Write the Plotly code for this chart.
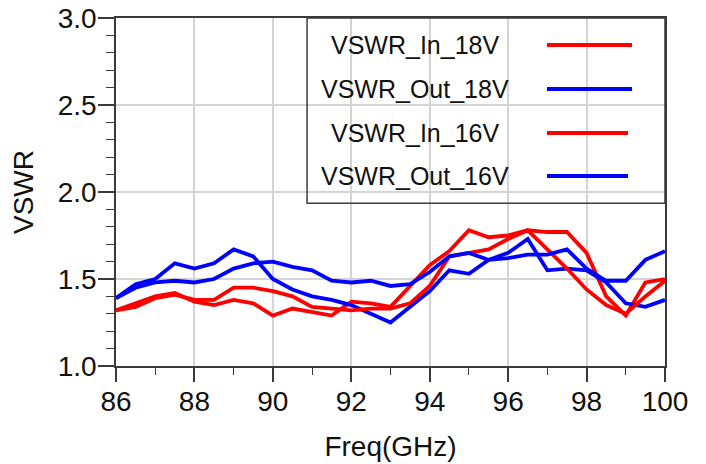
import plotly.graph_objects as go

# ---------------- data ----------------
freq_ghz = [86.0, 86.5, 87.0, 87.5, 88.0, 88.5, 89.0, 89.5, 90.0, 90.5,
            91.0, 91.5, 92.0, 92.5, 93.0, 93.5, 94.0, 94.5, 95.0, 95.5,
            96.0, 96.5, 97.0, 97.5, 98.0, 98.5, 99.0, 99.5, 100.0]

vswr_in_18v = [1.32, 1.36, 1.40, 1.42, 1.37, 1.35, 1.38, 1.36, 1.29, 1.33,
               1.31, 1.29, 1.37, 1.36, 1.34, 1.46, 1.58, 1.66, 1.78, 1.74,
               1.75, 1.78, 1.77, 1.77, 1.65, 1.40, 1.29, 1.48, 1.50]

vswr_out_18v = [1.39, 1.47, 1.50, 1.59, 1.56, 1.59, 1.67, 1.63, 1.50, 1.44,
                1.40, 1.38, 1.35, 1.30, 1.25, 1.34, 1.43, 1.55, 1.53, 1.61,
                1.65, 1.73, 1.55, 1.56, 1.55, 1.48, 1.36, 1.34, 1.38]

vswr_in_16v = [1.32, 1.34, 1.39, 1.41, 1.38, 1.38, 1.45, 1.45, 1.43, 1.40,
               1.34, 1.33, 1.32, 1.33, 1.33, 1.36, 1.46, 1.63, 1.65, 1.67,
               1.73, 1.78, 1.67, 1.56, 1.44, 1.35, 1.30, 1.40, 1.49]

vswr_out_16v = [1.39, 1.45, 1.48, 1.49, 1.48, 1.50, 1.56, 1.59, 1.60, 1.57,
                1.55, 1.49, 1.48, 1.49, 1.46, 1.47, 1.54, 1.63, 1.65, 1.61,
                1.62, 1.64, 1.64, 1.67, 1.56, 1.49, 1.49, 1.61, 1.66]

series_names = ["VSWR_In_18V", "VSWR_Out_18V", "VSWR_In_16V", "VSWR_Out_16V"]
series_values = [vswr_in_18v, vswr_out_18v, vswr_in_16v, vswr_out_16v]
series_colors = ["#ff0000", "#0000ff", "#ff0000", "#0000ff"]

x_ticks = [86, 88, 90, 92, 94, 96, 98, 100]
y_ticks = [1.0, 1.5, 2.0, 2.5, 3.0]

# ---------------- figure ----------------
FONT = "Liberation Sans, Arial, sans-serif"
AXIS_COL = "#3a3a3a"
GRID_COL = "#d4d4d4"
LINE_W = 3.8

fig = go.Figure()
for name, vals, col in zip(series_names, series_values, series_colors):
    fig.add_trace(go.Scatter(x=freq_ghz, y=vals, mode="lines", name=name,
                             line=dict(color=col, width=LINE_W),
                             showlegend=False))

# custom legend (text left, line sample right, as in the reference)
leg_rows_y = [0.9224, 0.796, 0.6695, 0.546]
leg_line_x1 = [0.940, 0.940, 0.9326, 0.9326]
fig.add_shape(type="rect", xref="paper", yref="paper",
              x0=0.348, x1=1.0, y0=0.468, y1=1.0,
              line=dict(color=AXIS_COL, width=1.5), fillcolor="rgba(0,0,0,0)")
for name, col, yy, x1 in zip(series_names, series_colors, leg_rows_y, leg_line_x1):
    fig.add_annotation(xref="paper", yref="paper", x=0.5446, y=yy,
                       text=name, showarrow=False, xanchor="center",
                       yanchor="middle",
                       font=dict(family=FONT, size=25, color="#111"))
    fig.add_shape(type="line", xref="paper", yref="paper",
                  x0=0.785, x1=x1, y0=yy, y1=yy,
                  line=dict(color=col, width=LINE_W))

fig.update_layout(
    width=706, height=464,
    margin=dict(l=116, r=41, t=18, b=98, autoexpand=False),
    paper_bgcolor="white", plot_bgcolor="white",
    font=dict(family=FONT, size=28, color="#111"),
)
fig.update_xaxes(
    range=[86, 100], tickvals=x_ticks, ticktext=[str(v) for v in x_ticks],
    showgrid=True, gridcolor=GRID_COL, gridwidth=1.5,
    showline=True, linecolor=AXIS_COL, linewidth=1.5, mirror=True,
    ticks="outside", ticklen=14, tickwidth=1.5, tickcolor=AXIS_COL,
    minor=dict(dtick=1, ticks="outside", ticklen=7, tickwidth=1.2,
               tickcolor=AXIS_COL, showgrid=False),
    tickfont=dict(family=FONT, size=28, color="#111"),
    ticklabelstandoff=-4, ticklabeloverflow="allow",
    title=dict(text="Freq(GHz)", standoff=20,
               font=dict(family=FONT, size=28, color="#111")),
    zeroline=False, automargin=False,
)
fig.update_yaxes(
    range=[1, 3], tickvals=y_ticks, ticktext=[f"{v:.1f}" for v in y_ticks],
    showgrid=True, gridcolor=GRID_COL, gridwidth=1.5,
    showline=True, linecolor=AXIS_COL, linewidth=1.5, mirror=True,
    ticks="outside", ticklen=16, tickwidth=1.5, tickcolor=AXIS_COL,
    minor=dict(dtick=0.1, ticks="outside", ticklen=8, tickwidth=1.2,
               tickcolor=AXIS_COL, showgrid=False),
    tickfont=dict(family=FONT, size=28, color="#111"),
    ticklabelstandoff=-4, ticklabeloverflow="allow",
    title=dict(text="VSWR", standoff=16,
               font=dict(family=FONT, size=28, color="#111")),
    zeroline=False, automargin=False,
)

# remove the default 8px page margin so the figure fills the window exactly
fig.write_html("out.html",
               config={"displayModeBar": False},
               post_script="document.body.style.margin='0';")
